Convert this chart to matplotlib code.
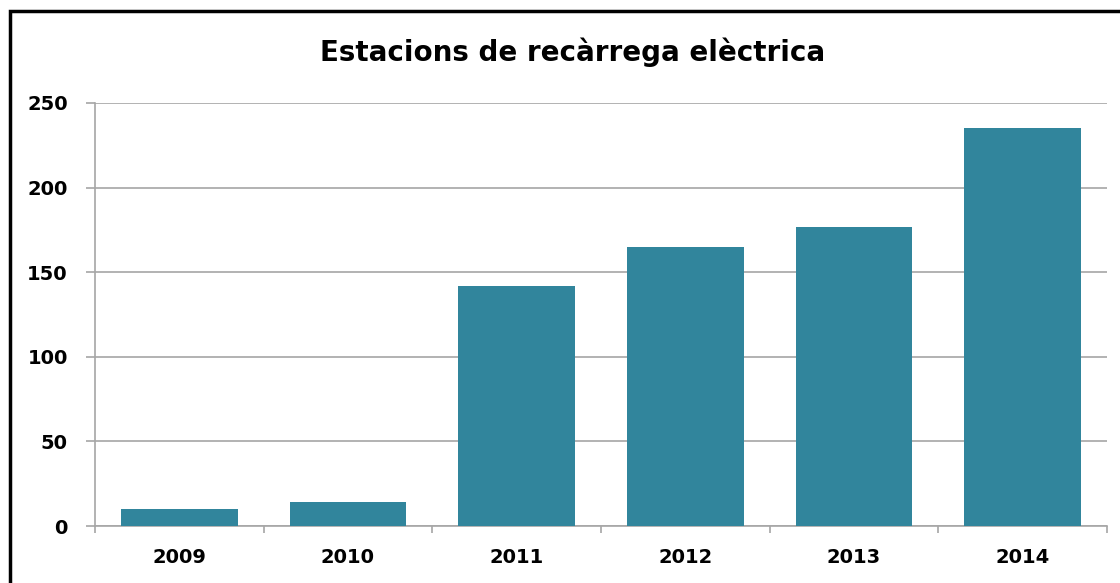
import numpy as np
import matplotlib.pyplot as plt
from matplotlib.patches import Rectangle

years = ["2009", "2010", "2011", "2012", "2013", "2014"]
stations = [10, 14, 142, 165, 177, 235]

plt.rcParams['font.family'] = ['DejaVu Sans']

fig = plt.figure(figsize=(11.2, 5.83), dpi=100)
ax = fig.add_axes([95 / 1120, 1 - 526 / 583, (1107 - 95) / 1120, (526 - 103) / 583])

x = np.arange(len(years))
ax.bar(x, stations, width=0.69, color="#31859C", zorder=3)

ax.set_xlim(-0.5, len(years) - 0.5)
ax.set_ylim(0, 250)
ax.set_yticks(np.arange(0, 251, 50))
ax.yaxis.grid(True, color="#A6A6A6", linewidth=1.2, zorder=0)

ax.set_xticks(x)
ax.set_xticklabels(years)
ax.set_xticks(np.arange(-0.5, len(years), 1.0), minor=True)
ax.tick_params(axis="x", which="major", length=0, pad=16, labelsize=14)
ax.tick_params(axis="x", which="minor", length=5, width=1.2, color="#A6A6A6")
ax.tick_params(axis="y", length=6.5, width=1.2, color="#A6A6A6", pad=13, labelsize=14)
for lab in ax.get_xticklabels() + ax.get_yticklabels():
    lab.set_fontweight("bold")

for side in ["top", "right"]:
    ax.spines[side].set_visible(False)
for side in ["left", "bottom"]:
    ax.spines[side].set_color("#A6A6A6")
    ax.spines[side].set_linewidth(1.2)

fig.text(573 / 1120, 1 - 52 / 583, "Estacions de recàrrega elèctrica",
         ha="center", va="center", fontsize=20, fontweight="bold")

# chart area border, cut off at right and bottom like the original
fig.add_artist(Rectangle((10 / 1120, -0.1), 1.2, 1 - 11 / 583 + 0.1,
                         transform=fig.transFigure, fill=False,
                         edgecolor="black", linewidth=2.5))

fig.savefig("out.png", dpi=100)
